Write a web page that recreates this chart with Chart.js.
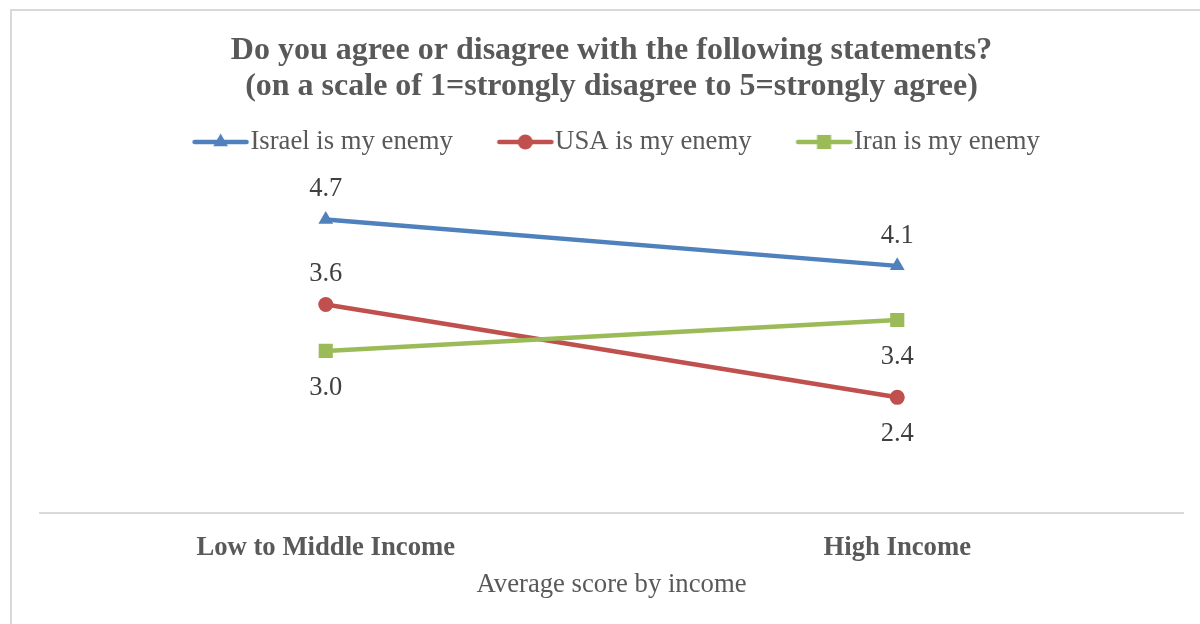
<!DOCTYPE html>
<html>
<head>
<meta charset="utf-8">
<script src="https://cdn.jsdelivr.net/npm/chart.js@4.4.1/dist/chart.umd.min.js"></script>
<style>
  html, body { margin: 0; padding: 0; background: #fff; }
  #wrap { position: relative; width: 1200px; height: 624px; overflow: hidden; }
  #frame { position: absolute; left: 10px; top: 9px; width: 1300px; height: 700px;
           border-left: 2px solid #d9d9d9; border-top: 2px solid #d9d9d9; }
  #score_chart { position: absolute; left: 0; top: 0; }
</style>
</head>
<body>
<div id="wrap">
  <div id="frame"></div>
  <canvas id="score_chart" width="1200" height="624"></canvas>
</div>
<script>

var income_groups = ['Low to Middle Income', 'High Income'];
var series_names = ['Israel is my enemy', 'USA is my enemy', 'Iran is my enemy'];
var israel_scores = [4.7, 4.1];
var usa_scores = [3.6, 2.4];
var iran_scores = [3.0, 3.4];

var serif = "'Liberation Serif', 'Times New Roman', serif";
var grey_text = '#595959';

// marker shapes, used both on the lines and in the legend swatches
function draw_marker(ctx, style, r, x, y) {
    ctx.beginPath();
    if (style === 'triangle') {
        ctx.moveTo(x, y - r);
        ctx.lineTo(x + r * 0.866, y + r / 2);
        ctx.lineTo(x - r * 0.866, y + r / 2);
        ctx.closePath();
    } else if (style === 'circle') {
        ctx.arc(x, y, r, 0, Math.PI * 2);
    } else {
        var h = r * Math.SQRT1_2;
        ctx.rect(x - h, y - h, h * 2, h * 2);
    }
    ctx.fill();
}

// legend swatch: short line with the marker in the middle
// (the line sits right of centre so the text follows it closely)
function make_swatch(colour, style, r) {
    var c = document.createElement('canvas');
    c.width = 78;
    c.height = 24;
    var ctx = c.getContext('2d');
    ctx.strokeStyle = colour;
    ctx.fillStyle = colour;
    ctx.lineWidth = 4.5;
    ctx.lineCap = 'round';
    ctx.beginPath();
    ctx.moveTo(23.5, 12);
    ctx.lineTo(75.5, 12);
    ctx.stroke();
    draw_marker(ctx, style, r, 49.5, 12);
    return c;
}

var swatches = [
    make_swatch('#4f81bd', 'triangle', 8.5),
    make_swatch('#c0504d', 'circle', 7.5),
    make_swatch('#9bbb59', 'rect', 10)
];

// value labels above / below each point
var point_labels = {
    id: 'point_labels',
    afterDatasetsDraw: function(chart) {
        var ctx = chart.ctx;
        ctx.save();
        ctx.font = '26.5px ' + serif;
        ctx.fillStyle = '#404040';
        ctx.textAlign = 'center';
        ctx.textBaseline = 'middle';
        chart.data.datasets.forEach(function(ds, i) {
            var meta = chart.getDatasetMeta(i);
            meta.data.forEach(function(pt, j) {
                var dy = ds.labelSide[j] === 'above' ? -30 : 37;
                ctx.fillText(ds.data[j].toFixed(1), pt.x, pt.y + dy);
            });
        });
        ctx.restore();
    }
};

function init_score_chart() {

    var score_chart_elem = document.getElementById('score_chart').getContext('2d');

    var score_data = {
        labels: income_groups,
        datasets: [{
            label: series_names[0],
            data: israel_scores,
            borderColor: '#4f81bd',
            backgroundColor: '#4f81bd',
            pointStyle: 'triangle',
            pointRadius: 8.5,
            labelSide: ['above', 'above'],
            order: 2
        }, {
            label: series_names[1],
            data: usa_scores,
            borderColor: '#c0504d',
            backgroundColor: '#c0504d',
            pointStyle: 'circle',
            pointRadius: 7.5,
            labelSide: ['above', 'below'],
            order: 1
        }, {
            label: series_names[2],
            data: iran_scores,
            borderColor: '#9bbb59',
            backgroundColor: '#9bbb59',
            pointStyle: 'rect',
            pointRadius: 10,
            labelSide: ['below', 'below'],
            order: 0
        }]
    };

    var score_config = {
        type: 'line',
        data: score_data,
        plugins: [point_labels],
        options: {
            responsive: false,
            animation: false,
            layout: {
                padding: { left: 40, right: 17, top: 0, bottom: 23.4 }
            },
            elements: {
                line: { borderWidth: 4.5, tension: 0, borderCapStyle: 'round' },
                point: { borderWidth: 0, hoverRadius: 8 }
            },
            scales: {
                x: {
                    offset: true,
                    grid: { display: false, drawTicks: false },
                    border: { display: true, color: '#d9d9d9', width: 2 },
                    ticks: {
                        padding: 18.4,
                        color: grey_text,
                        font: { family: serif, size: 26.7, weight: 'bold', lineHeight: 1.2 }
                    },
                    title: {
                        display: true,
                        text: 'Average score by income',
                        color: grey_text,
                        padding: { top: -13.6, bottom: 0 },
                        font: { family: serif, size: 26.7, lineHeight: 1.2 }
                    }
                },
                y: {
                    display: false,
                    min: 0.9,
                    max: 5.4
                }
            },
            plugins: {
                title: {
                    display: true,
                    text: ['Do you agree or disagree with the following statements?',
                           '(on a scale of 1=strongly disagree to 5=strongly agree)'],
                    color: grey_text,
                    padding: { top: 33, bottom: -11.35 },
                    font: { family: serif, size: 32, weight: 'bold', lineHeight: 1.125 }
                },
                legend: {
                    position: 'top',
                    labels: {
                        usePointStyle: true,
                        pointStyleWidth: 54,
                        padding: 35,
                        color: grey_text,
                        font: { family: serif, size: 26.7 },
                        generateLabels: function(chart) {
                            var items = Chart.defaults.plugins.legend.labels.generateLabels(chart);
                            items.forEach(function(it) {
                                it.pointStyle = swatches[it.datasetIndex];
                            });
                            return items.sort(function(a, b) { return a.datasetIndex - b.datasetIndex; });
                        }
                    }
                },
                tooltip: { enabled: false }
            }
        }
    };

    return new Chart(score_chart_elem, score_config);
}

init_score_chart();
</script>
</body>
</html>
